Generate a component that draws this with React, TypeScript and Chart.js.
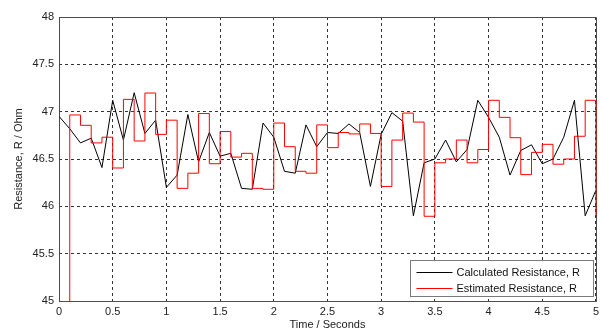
import React, { useEffect, useRef } from 'react';
import { Chart, registerables } from 'chart.js';

Chart.register(...registerables);

// Time axis (seconds)
const timeS = [
  0, 0.1, 0.2, 0.3, 0.4, 0.5, 0.6, 0.7, 0.8, 0.9,
  1, 1.1, 1.2, 1.3, 1.4, 1.5, 1.6, 1.7, 1.8, 1.9,
  2, 2.1, 2.2, 2.3, 2.4, 2.5, 2.6, 2.7, 2.8, 2.9,
  3, 3.1, 3.2, 3.3, 3.4, 3.5, 3.6, 3.7, 3.8, 3.9,
  4, 4.1, 4.2, 4.3, 4.4, 4.5, 4.6, 4.7, 4.8, 4.9,
  5,
];

// Calculated resistance (black line)
const calculatedR = [
  46.95, 46.82, 46.67, 46.72, 46.41, 47.12, 46.70, 47.20, 46.77, 46.91,
  46.20, 46.33, 46.97, 46.47, 46.78, 46.53, 46.56, 46.19, 46.18, 46.88,
  46.73, 46.37, 46.35, 46.86, 46.63, 46.78, 46.77, 46.87, 46.78, 46.21,
  46.76, 46.99, 46.90, 45.90, 46.46, 46.50, 46.70, 46.47, 46.60, 47.12,
  46.94, 46.73, 46.33, 46.59, 46.65, 46.45, 46.50, 46.73, 47.12, 45.90,
  46.17,
];

// Estimated resistance (red stairs, value held from t[i] to t[i+1])
const estimatedR = [
  44.0, 46.965, 46.856, 46.67, 46.73, 46.405, 47.13, 46.69, 47.197, 46.76,
  46.91, 46.19, 46.35, 46.98, 46.45, 46.79, 46.52, 46.56, 46.19, 46.18,
  46.88, 46.63, 46.37, 46.35, 46.86, 46.62, 46.78, 46.765, 46.87, 46.77,
  46.21, 46.70, 46.985, 46.89, 45.895, 46.46, 46.50, 46.70, 46.46, 46.60,
  47.12, 46.94, 46.725, 46.335, 46.57, 46.655, 46.445, 46.50, 46.74, 47.12,
  45.91,
];

const xTickValues = [0, 0.5, 1, 1.5, 2, 2.5, 3, 3.5, 4, 4.5, 5];
const yTickValues = [45, 45.5, 46, 46.5, 47, 47.5, 48];

const seriesNames = ['Calculated Resistance, R', 'Estimated Resistance, R'];
const seriesColors = ['#000000', '#ff0000'];

const xTitle = 'Time / Seconds';
const yTitle = 'Resistance, R / Ohm';

const FONT_FAMILY = '"Liberation Sans", Arial, Helvetica, sans-serif';

function boxCoords(a: any) {
  return {
    l: Math.round(a.left) + 0.5,
    t: Math.round(a.top) + 0.5,
    r: Math.round(a.right) + 0.5,
    b: Math.round(a.bottom) + 0.5,
  };
}

const framePlugin = {
  id: 'frameAndLegend',
  beforeDatasetsDraw(chart: any) {
    const { ctx, chartArea } = chart;
    const { l, t, r, b } = boxCoords(chartArea);
    ctx.save();
    ctx.strokeStyle = '#4d4d4d';
    ctx.lineWidth = 1;
    ctx.beginPath();
    ctx.rect(l, t, r - l, b - t);
    ctx.stroke();
    ctx.restore();
  },
  afterDatasetsDraw(chart: any) {
    const { ctx, chartArea } = chart;
    const { r, b } = boxCoords(chartArea);
    ctx.save();
    ctx.lineWidth = 1;
    // legend box (bottom-right, inside axes)
    const boxW = 183;
    const boxH = 36;
    const bx = Math.round(r - 4 - boxW) + 0.5;
    const by = Math.round(b - 6 - boxH) + 0.5;
    ctx.fillStyle = '#ffffff';
    ctx.fillRect(bx, by, boxW, boxH);
    ctx.strokeStyle = '#7a7a7a';
    ctx.strokeRect(bx, by, boxW, boxH);
    ctx.font = `11px ${FONT_FAMILY}`;
    ctx.textBaseline = 'middle';
    ctx.textAlign = 'left';
    seriesNames.forEach((name, i) => {
      const yy = Math.round(by + 11 + i * 16) + 0.5;
      ctx.strokeStyle = seriesColors[i];
      ctx.beginPath();
      ctx.moveTo(bx + 6, yy);
      ctx.lineTo(bx + 42, yy);
      ctx.stroke();
      ctx.fillStyle = '#111111';
      ctx.fillText(name, bx + 46, yy);
    });
    ctx.restore();
  },
};

export default function App() {
  const canvasRef = useRef<HTMLCanvasElement | null>(null);

  useEffect(() => {
    if (!canvasRef.current) return;
    const chart = new Chart(canvasRef.current, {
      type: 'line',
      data: {
        datasets: [
          {
            label: seriesNames[0],
            data: timeS.map((t, i) => ({ x: t, y: calculatedR[i] })),
            borderColor: seriesColors[0],
            borderWidth: 1,
            pointRadius: 0,
            fill: false,
            tension: 0,
            order: 1,
          },
          {
            label: seriesNames[1],
            data: timeS.map((t, i) => ({ x: t, y: estimatedR[i] })),
            borderColor: seriesColors[1],
            borderWidth: 1,
            pointRadius: 0,
            fill: false,
            stepped: 'before',
            order: 0,
            clip: { left: 0, top: 0, bottom: 0, right: 1 },
          },
        ],
      },
      options: {
        animation: false,
        responsive: false,
        devicePixelRatio: 1,
        layout: { padding: { top: 17, right: 7, left: 0, bottom: 0 } },
        plugins: {
          legend: { display: false },
          tooltip: { enabled: false },
        },
        scales: {
          x: {
            type: 'linear',
            min: 0,
            max: 5,
            afterBuildTicks: (scale: any) => {
              scale.ticks = xTickValues.map((v) => ({ value: v }));
            },
            afterFit: (scale: any) => {
              scale.height = 32;
            },
            ticks: {
              padding: 4,
              maxRotation: 0,
              autoSkip: false,
              color: '#222222',
              font: { family: FONT_FAMILY, size: 11 },
              callback: (v: any) => String(v),
            },
            grid: {
              color: '#333333',
              lineWidth: 1,
              drawTicks: false,
            },
            border: { display: false, dash: [3, 3] },
            title: {
              display: true,
              text: xTitle,
              color: '#222222',
              font: { family: FONT_FAMILY, size: 11 },
              padding: { top: 0, bottom: 1 },
            },
          },
          y: {
            type: 'linear',
            min: 45,
            max: 48,
            afterBuildTicks: (scale: any) => {
              scale.ticks = yTickValues.map((v) => ({ value: v }));
            },
            afterFit: (scale: any) => {
              scale.width = 59;
            },
            ticks: {
              padding: 5,
              autoSkip: false,
              color: '#222222',
              font: { family: FONT_FAMILY, size: 11 },
              callback: (v: any) => String(v),
            },
            grid: {
              color: '#333333',
              lineWidth: 1,
              drawTicks: false,
            },
            border: { display: false, dash: [3, 3] },
            title: {
              display: true,
              text: yTitle,
              color: '#222222',
              font: { family: FONT_FAMILY, size: 11 },
              padding: { top: 12, bottom: 0 },
            },
          },
        },
      },
      plugins: [framePlugin],
    } as any);
    return () => chart.destroy();
  }, []);

  return (
    <div style={{ position: 'fixed', left: 0, top: 0, width: 603, height: 333, background: '#ffffff' }}>
      <canvas ref={canvasRef} width={603} height={333} style={{ display: 'block' }} />
    </div>
  );
}
